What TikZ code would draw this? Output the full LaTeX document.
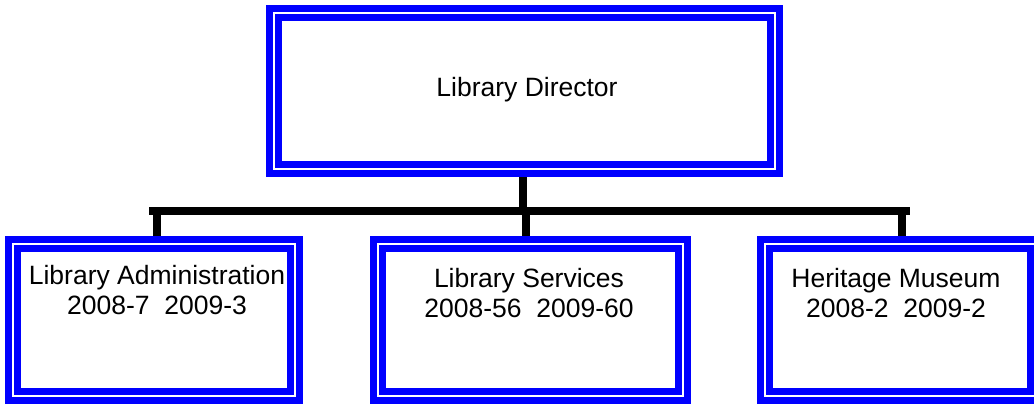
\documentclass[tikz,border=0pt]{standalone}
\usepackage{fontspec}
\setmainfont{Liberation Sans}
\definecolor{frameblue}{RGB}{0,0,255}
\begin{document}
\begin{tikzpicture}[x=1pt,y=-1pt,
  frame/.style={draw=frameblue,line width=7pt,double=white,double distance=2pt,
    rectangle,inner sep=0pt,outer sep=0pt},
  lbl/.style={align=center,font=\fontsize{26.5}{30}\selectfont,inner sep=0pt},
  link/.style={draw=black,line width=8.5pt}]
\useasboundingbox (0,0) rectangle (1034,405);

% connector layout points
\coordinate (trunk) at (523,211);
\coordinate (barL) at (153,211);
\coordinate (barR) at (906,211);
\coordinate (dropA) at (157,211);
\coordinate (dropS) at (526,211);
\coordinate (dropH) at (902,211);

% boxes
\node[frame,minimum width=501pt,minimum height=156pt] (dir) at (524.5,91) {};
\node[frame,minimum width=282pt,minimum height=152pt] (adm) at (154,320) {};
\node[frame,minimum width=305pt,minimum height=152pt] (srv) at (530.5,320) {};
\node[frame,minimum width=270pt,minimum height=152pt] (mus) at (900,320) {};

% connectors
\draw[link] (dir.south -| trunk) -- (trunk);
\draw[link,line cap=rect] (barL) -- (barR);
\draw[link] (dropA) -- (adm.north -| dropA);
\draw[link] (dropS) -- (srv.north -| dropS);
\draw[link] (dropH) -- (mus.north -| dropH);

% redraw frames on top of the connector ends
\node[frame,minimum width=501pt,minimum height=156pt] at (dir) {};
\node[frame,minimum width=282pt,minimum height=152pt] at (adm) {};
\node[frame,minimum width=305pt,minimum height=152pt] at (srv) {};
\node[frame,minimum width=270pt,minimum height=152pt] at (mus) {};

% labels
\node[lbl] (dirT) at (527,90) {Library Director};
\node[lbl] (admT) at (157,290) {Library Administration\\2008-7~~2009-3};
\node[lbl] (srvT) at (529,293) {Library Services\\2008-56~~2009-60};
\node[lbl] (musT) at (896,293) {Heritage Museum\\2008-2~~2009-2};
\end{tikzpicture}
\end{document}
